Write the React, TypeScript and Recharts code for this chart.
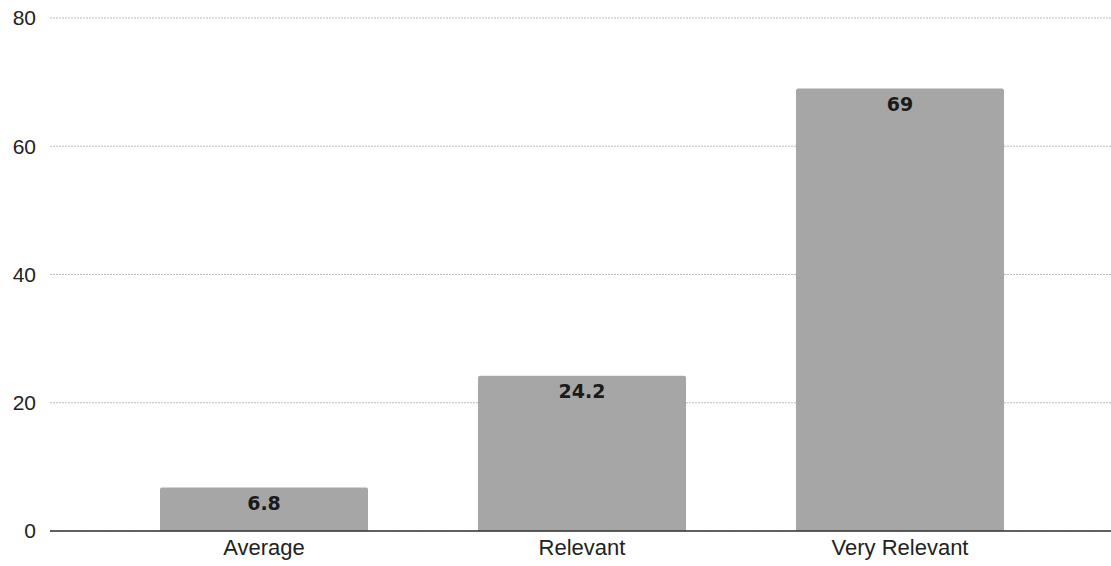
import React from 'react';
import { BarChart, Bar, CartesianGrid, XAxis, YAxis, LabelList, ReferenceLine } from 'recharts';

const categories = ['Average', 'Relevant', 'Very Relevant'];
const values = [6.8, 24.2, 69];
const yTicks = [0, 20, 40, 60, 80];

const data = categories.map((name, i) => ({ name, value: values[i] }));

const App: React.FC = () => {
  return (
    <div style={{ position: 'absolute', left: 0, top: 0, background: '#fff' }}>
      <BarChart
        width={1111}
        height={566}
        data={data}
        margin={{ top: 18, right: 0, bottom: 0, left: 0 }}
        barCategoryGap={0}
      >
        <CartesianGrid vertical={false} stroke="#bdbdbd" strokeDasharray="2 1" />
        <XAxis
          dataKey="name"
          padding={{ left: 55, right: 52 }}
          axisLine={false}
          tickLine={false}
          height={35}
          tick={{ fill: '#222', fontSize: 22, fontFamily: 'Liberation Sans, Arial, sans-serif' }}
          tickMargin={2}
        />
        <YAxis
          domain={[0, 80]}
          ticks={yTicks}
          width={50}
          axisLine={false}
          tickLine={false}
          tick={{ fill: '#222', fontSize: 21, fontFamily: 'Liberation Sans, Arial, sans-serif' }}
          tickMargin={8}
        />
        <Bar dataKey="value" fill="#a6a6a6" barSize={208} radius={[2, 2, 0, 0]} isAnimationActive={false}>
          <LabelList
            dataKey="value"
            position="insideTop"
            offset={9}
            fill="#1a1a1a"
            fontSize={19}
            fontWeight="bold"
            fontFamily="DejaVu Sans, sans-serif"
          />
        </Bar>
        <ReferenceLine y={0} stroke="#333" strokeWidth={1.5} />
      </BarChart>
    </div>
  );
};

export default App;
